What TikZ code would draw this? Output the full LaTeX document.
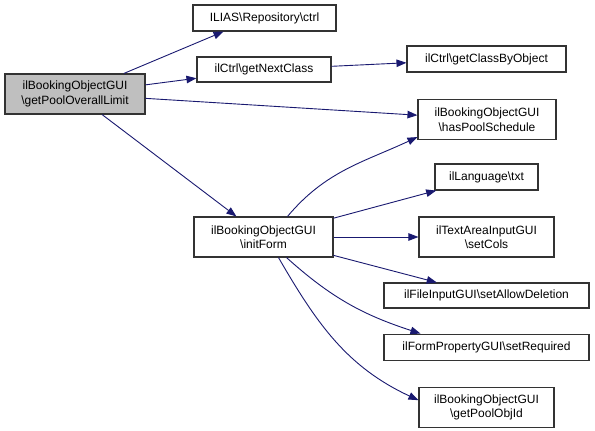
\documentclass[tikz,border=0pt]{standalone}
\usepackage{fontspec}
\setmainfont{Liberation Sans}
\usetikzlibrary{arrows.meta,positioning}
\definecolor{midblue}{RGB}{25,25,112}
\definecolor{rootgray}{RGB}{191,191,191}
\newcommand{\bsl}{\textbackslash}
\tikzset{
  fn/.style={draw=black!80, line width=1.1pt, fill=white, align=center, inner sep=2pt,
    minimum height=26pt, font=\fontsize{12}{14.5}\selectfont},
  fn2/.style={fn, minimum height=40pt},
  root/.style={fn2, fill=rootgray},
  call/.style={draw=midblue, line width=0.9pt, -{Triangle[length=10pt,width=7.5pt]}}
}
\begin{document}
\begin{tikzpicture}[x=1pt,y=-1pt]
  \useasboundingbox (0,0) rectangle (595,431);
  \node[root, minimum width=140pt] (limit) at (75,94) {ilBookingObjectGUI\\\bsl getPoolOverallLimit};
  \node[fn, minimum width=143pt] (repo) at (264.5,18) {ILIAS\bsl Repository\bsl ctrl};
  \node[fn, minimum width=134pt, minimum height=25pt] (next) at (264,69.5) {ilCtrl\bsl getNextClass};
  \node[fn, minimum width=159pt] (byobj) at (486.5,59) {ilCtrl\bsl getClassByObject};
  \node[fn2, minimum width=138pt] (sched) at (487,119.5) {ilBookingObjectGUI\\\bsl hasPoolSchedule};
  \node[fn2, minimum width=139pt] (init) at (263.5,237) {ilBookingObjectGUI\\\bsl initForm};
  \node[fn, minimum width=103pt] (txt) at (486.5,177) {ilLanguage\bsl txt};
  \node[fn2, minimum width=135pt] (cols) at (486.5,237) {ilTextAreaInputGUI\\\bsl setCols};
  \node[fn, minimum width=205pt, minimum height=25pt] (del) at (486.5,295.5) {ilFileInputGUI\bsl setAllowDeletion};
  \node[fn, minimum width=205pt, below=25pt of del] (req) {ilFormPropertyGUI\bsl setRequired};
  \node[fn2, minimum width=135pt, below=26pt of req] (objid) {ilBookingObjectGUI\\\bsl getPoolObjId};

  \draw[call] (limit) -- ([xshift=-41pt]repo.south);
  \draw[call] (limit) -- (next);
  \draw[call] (next) -- (byobj);
  \draw[call] (limit) -- (sched);
  \draw[call] (limit) -- (init);
  % calls from initForm
  \draw[call] ([xshift=24pt]init.north) to[out=50,in=205] ([yshift=3pt]sched.south west);
  \draw[call] (init) -- (txt);
  \draw[call] (init) -- (cols);
  \draw[call] (init) -- (del);
  \draw[call] ([xshift=23pt]init.south) to[out=-42,in=162] ([xshift=-66pt]req.north);
  \draw[call] ([xshift=15pt]init.south) to[out=-60,in=155] ([yshift=7pt]objid.west);
\end{tikzpicture}
\end{document}
